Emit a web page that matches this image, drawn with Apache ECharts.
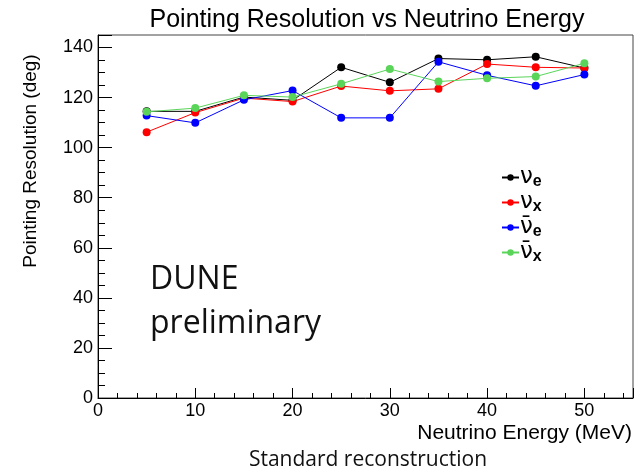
<!DOCTYPE html>
<html>
<head>
<meta charset="utf-8">
<script src="https://cdn.jsdelivr.net/npm/echarts@6/dist/echarts.min.js"></script>
<style>
html,body{margin:0;padding:0;background:#fff;}
#chart{width:641px;height:473px;}
</style>
</head>
<body>
<div id="chart"></div>
<script>
const energies = [5, 10, 15, 20, 25, 30, 35, 40, 45, 50];
const nueValues = [114.5, 114.5, 120.2, 118.9, 132.1, 126.1, 135.6, 135.1, 136.3, 131.8];
const nuxValues = [106.2, 114.0, 119.8, 118.4, 124.6, 122.7, 123.5, 133.4, 132.1, 131.8];
const antiNueValues = [112.8, 109.9, 119.1, 122.8, 111.9, 111.9, 134.3, 128.9, 124.7, 129.2];
const antiNuxValues = [114.3, 115.8, 120.9, 120.2, 125.5, 131.4, 126.4, 127.7, 128.4, 133.7];
const seriesNames = ['nue', 'nux', 'antinue', 'antinux'];
const seriesColors = ['#000000', '#ff0000', '#0000ff', '#5ad55a'];
const legendLabels = {
  nue: '{nu|\u03bd}{sub|e}',
  nux: '{nu|\u03bd}{sub|x}',
  antinue: '{nu|\u03bd\u0304}{sub|e}',
  antinux: '{nu|\u03bd\u0304}{sub|x}'
};
const titleText = 'Pointing Resolution vs Neutrino Energy';
const yTitle = 'Pointing Resolution (deg)';
const xTitle = 'Neutrino Energy (MeV)';

const allValues = [nueValues, nuxValues, antiNueValues, antiNuxValues];
const chart = echarts.init(document.getElementById('chart'), null, {renderer: 'canvas'});
const baseFont = '"Liberation Sans", Arial, sans-serif';
const labelFont = '"Open Sans", Lato, sans-serif';

const series = seriesNames.map((n, i) => ({
  name: n,
  type: 'line',
  data: energies.map((e, j) => [e, allValues[i][j]]),
  symbol: 'circle',
  symbolSize: 8,
  showSymbol: true,
  lineStyle: {width: 1, color: seriesColors[i]},
  itemStyle: {color: seriesColors[i]},
  emphasis: {disabled: true},
  z: 2 + i
}));

chart.setOption({
  animation: false,
  backgroundColor: '#ffffff',
  title: {
    text: titleText,
    left: 362,
    top: 3,
    textAlign: 'center',
    textStyle: {fontFamily: baseFont, fontSize: 25, fontWeight: 'normal', color: '#000'}
  },
  grid: {
    left: 98, right: 8, top: 35, bottom: 75,
    show: true, borderColor: '#444', borderWidth: 1, backgroundColor: 'transparent'
  },
  legend: {
    orient: 'vertical',
    left: 496,
    top: 161,
    itemWidth: 17,
    itemHeight: 8,
    itemGap: 1,
    data: seriesNames,
    formatter: n => legendLabels[n],
    textStyle: {
      padding: [0, 0, 0, -4],
      rich: {
        nu: {fontFamily: '"DejaVu Sans", sans-serif', fontSize: 23, color: '#000', height: 23},
        sub: {fontFamily: baseFont, fontSize: 16, fontWeight: 'bold', color: '#000', verticalAlign: 'bottom', padding: [9, 0, 0, 0]}
      }
    }
  },
  xAxis: {
    type: 'value',
    min: 0, max: 55, interval: 10,
    name: xTitle,
    nameLocation: 'end',
    nameGap: -1,
    nameTextStyle: {fontFamily: baseFont, fontSize: 21, color: '#000', align: 'right', verticalAlign: 'top', padding: [25, 0, 0, 0]},
    axisLine: {show: true, onZero: false, lineStyle: {color: '#000', width: 1}},
    axisTick: {show: true, inside: true, length: 10, lineStyle: {color: '#000'}},
    minorTick: {show: true, splitNumber: 5, length: 5, lineStyle: {color: '#000'}},
    axisLabel: {fontFamily: baseFont, fontSize: 18, color: '#000', margin: 4, showMaxLabel: false},
    splitLine: {show: false}
  },
  yAxis: {
    type: 'value',
    min: 0, max: 145, interval: 20,
    axisLine: {show: true, onZero: false, lineStyle: {color: '#000', width: 1}},
    axisTick: {show: true, inside: true, length: 14, lineStyle: {color: '#000'}},
    minorTick: {show: true, splitNumber: 4, length: 7, lineStyle: {color: '#000'}},
    axisLabel: {fontFamily: baseFont, fontSize: 18, color: '#000', margin: 5, showMaxLabel: false},
    splitLine: {show: false}
  },
  graphic: [
    {
      type: 'text', x: 31, y: 161, rotation: Math.PI / 2,
      style: {text: yTitle, fontFamily: baseFont, fontSize: 19, fill: '#000', align: 'center', verticalAlign: 'middle'}
    },
    {
      type: 'text', left: 150, top: 264,
      style: {text: 'DUNE', fontFamily: labelFont, fontSize: 32, fill: '#111'}
    },
    {
      type: 'text', left: 150, top: 308,
      style: {text: 'preliminary', fontFamily: labelFont, fontSize: 32, fill: '#111'}
    },
    {
      type: 'text', x: 368, y: 460,
      style: {text: 'Standard reconstruction', fontFamily: labelFont, fontSize: 21, fill: '#111', align: 'center', verticalAlign: 'middle'}
    }
  ],
  series: series
});
</script>
</body>
</html>
